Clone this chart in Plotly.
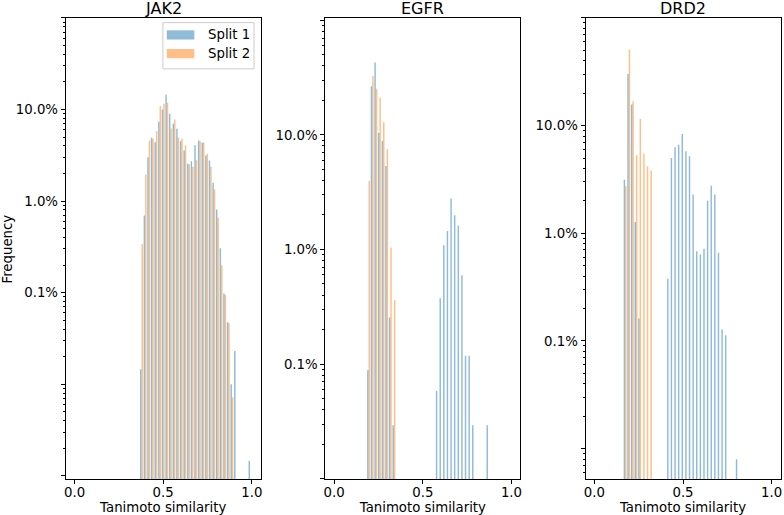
import plotly.graph_objects as go

# ---------------- data ----------------
N_BINS = 49  # bin edges: linspace(0, 1, 50)
PANELS = ["JAK2", "EGFR", "DRD2"]

JAK2_BINS = list(range(18, 45)) + [48]
JAK2_SPLIT1 = [1.46e-4, 6.98e-3, 3.02e-2, 4.91e-2, 4.40e-2, 7.35e-2, 0.100, 0.1446, 0.0898,
               0.0698, 0.0616, 0.0451, 0.0357, 0.0256, 0.0273, 0.0408, 0.0459, 0.0433,
               0.0315, 0.0278, 0.0159, 8.11e-3, 3.05e-3, 9.8e-4, 4.75e-4, 1.0e-4, 2.31e-4, 1.45e-5]
JAK2_SPLIT2 = [3.37e-3, 1.95e-2, 4.59e-2, 4.79e-2, 5.80e-2, 0.1086, 0.1153, 0.1183, 0.0621,
               0.0778, 0.0491, 0.0479, 0.0405, 0.0251, 0.0237, 0.0280, 0.0451, 0.0440,
               0.0329, 0.0237, 0.0134, 6.59e-3, 1.99e-3, 9.4e-4, 4.63e-4, 7.2e-5, None, None]

EGFR_BINS = list(range(9, 17)) + list(range(28, 39)) + [42]
EGFR_SPLIT1 = [8.85e-4, 0.266, 0.427, 0.1045, 0.0883, 0.0535, 2.55e-3, 2.93e-4,
               5.84e-4, 3.76e-3, 0.0109, 0.0145, 0.0278, 0.0199, 0.0162, 5.96e-3, 1.18e-3,
               1.18e-3, 2.93e-4, 2.93e-4]
EGFR_SPLIT2 = [0.0395, 0.326, 0.253, 0.211, 0.129, 0.0748, 0.0104, 3.6e-3] + [None] * 12

DRD2_BINS = list(range(8, 16)) + list(range(20, 37)) + [39]
DRD2_SPLIT1 = [0.0315, 0.301, 0.157, 0.0127, 1.62e-3, None, None, None,
               3.78e-3, 0.0501, 0.0630, 0.0663, 0.0837, 0.0578, 0.0519, 0.0229, 6.82e-3,
               6.35e-3, 7.18e-3, 0.0201, 0.0277, 0.0229, 6.59e-3, 1.28e-3, 1.13e-3, 7.98e-5]
DRD2_SPLIT2 = [0.0274, 0.507, 0.168, 0.0530, 0.115, 0.055, 0.0419, 0.0383] + [None] * 18

SERIES = ["Split 1", "Split 2"]
Y_TICKVALS = [1e-5, 1e-4, 1e-3, 1e-2, 1e-1, 1.0]
Y_TICKTEXT = ["", "", "0.1%", "1.0%", "10.0%", ""]
X_TICKVALS = [0.0, 0.5, 1.0]
X_TICKTEXT = ["0.0", "0.5", "1.0"]

# ---------------- style ----------------
W, H = 784, 515
FONT = "DejaVu Sans"
BLUE = "rgba(31,119,180,0.5)"
ORANGE = "rgba(255,127,14,0.5)"
X_DOMAINS_PX = [(64, 260), (325, 521), (586.5, 782.5)]
Y_DOMAIN_PX = (18, 480)
Y_RANGES = [(-5.036, 0.0), (-4.003, 0.02), (-4.283, 0.0)]

data = {
    "JAK2": (JAK2_BINS, JAK2_SPLIT1, JAK2_SPLIT2),
    "EGFR": (EGFR_BINS, EGFR_SPLIT1, EGFR_SPLIT2),
    "DRD2": (DRD2_BINS, DRD2_SPLIT1, DRD2_SPLIT2),
}

bw = 1.0 / N_BINS
minor_vals = [m * 10 ** e for e in range(-6, 1) for m in range(2, 10)]

fig = go.Figure()
for i, name in enumerate(PANELS):
    bins, s1, s2 = data[name]
    centers = [(k + 0.5) * bw for k in bins]
    sfx = "" if i == 0 else str(i + 1)
    for series, vals, col, off in ((SERIES[0], s1, BLUE, -0.4 * bw), (SERIES[1], s2, ORANGE, 0.0)):
        fig.add_trace(go.Bar(
            x=centers, y=vals, name=series, width=0.4 * bw, offset=off,
            marker=dict(color=col, line=dict(width=0)),
            xaxis="x" + sfx, yaxis="y" + sfx, showlegend=False,
        ))

    x0, x1 = X_DOMAINS_PX[i]
    xd = [x0 / W, x1 / W]
    yd = [1 - Y_DOMAIN_PX[1] / H, 1 - Y_DOMAIN_PX[0] / H]
    axis_common = dict(showline=True, mirror=True, linecolor="black", linewidth=1,
                       ticks="outside", ticklen=4, tickwidth=1, tickcolor="black",
                       showgrid=False, zeroline=False,
                       tickfont=dict(family=FONT, size=13.3, color="black"))
    fig.layout["xaxis" + sfx] = dict(
        domain=xd, anchor="y" + sfx, range=[-0.05, 1.05],
        tickmode="array", tickvals=X_TICKVALS, ticktext=X_TICKTEXT,
        ticklabelstandoff=-3,
        title=dict(text="Tanimoto similarity", font=dict(family=FONT, size=13.3, color="black"),
                   standoff=6),
        **axis_common)
    fig.layout["yaxis" + sfx] = dict(
        domain=yd, anchor="x" + sfx, type="log", range=list(Y_RANGES[i]),
        tickmode="array", tickvals=Y_TICKVALS, ticktext=Y_TICKTEXT,
        minor=dict(tickmode="array", tickvals=minor_vals, ticks="outside", ticklen=2,
                   tickcolor="black", tickwidth=0.8, showgrid=False),
        **axis_common)
    fig.add_annotation(text=name, x=(x0 + x1) / 2 / W, y=1 - 9 / H, xref="paper", yref="paper",
                       showarrow=False, xanchor="center", yanchor="middle",
                       font=dict(family=FONT, size=16, color="black"))

# y label
fig.add_annotation(text="Frequency", x=6 / W, y=1 - 249 / H, xref="paper", yref="paper",
                   showarrow=False, textangle=-90, xanchor="center", yanchor="middle",
                   font=dict(family=FONT, size=13.3, color="black"))

# legend (matplotlib style) inside first panel
def fx(px):
    return (px - X_DOMAINS_PX[0][0]) / (X_DOMAINS_PX[0][1] - X_DOMAINS_PX[0][0])

def fy(py):
    return (Y_DOMAIN_PX[1] - py) / (Y_DOMAIN_PX[1] - Y_DOMAIN_PX[0])

fig.add_shape(type="rect", xref="x domain", yref="y domain",
              x0=fx(161.7), x1=fx(253.3), y0=fy(69), y1=fy(22.7),
              line=dict(color="#cccccc", width=1), fillcolor="rgba(255,255,255,0.8)")
for j, (lab, col, yc) in enumerate(((SERIES[0], BLUE, 35.0), (SERIES[1], ORANGE, 53.7))):
    fig.add_shape(type="rect", xref="x domain", yref="y domain",
                  x0=fx(165.7), x1=fx(193.3), y0=fy(yc + 4.6), y1=fy(yc - 4.6),
                  line=dict(width=0), fillcolor=col)
    fig.add_annotation(text=lab, xref="x domain", yref="y domain", x=fx(205), y=fy(yc),
                       showarrow=False, xanchor="left", yanchor="middle",
                       font=dict(family=FONT, size=13.3, color="black"))

fig.update_layout(width=W, height=H, margin=dict(l=0, r=0, t=0, b=0),
                  paper_bgcolor="white", plot_bgcolor="white", barmode="overlay",
                  font=dict(family=FONT, color="black"))
fig.write_html("out.html", config={"displayModeBar": False},
               post_script="document.body.style.margin='0px';document.body.style.overflow='hidden';")
